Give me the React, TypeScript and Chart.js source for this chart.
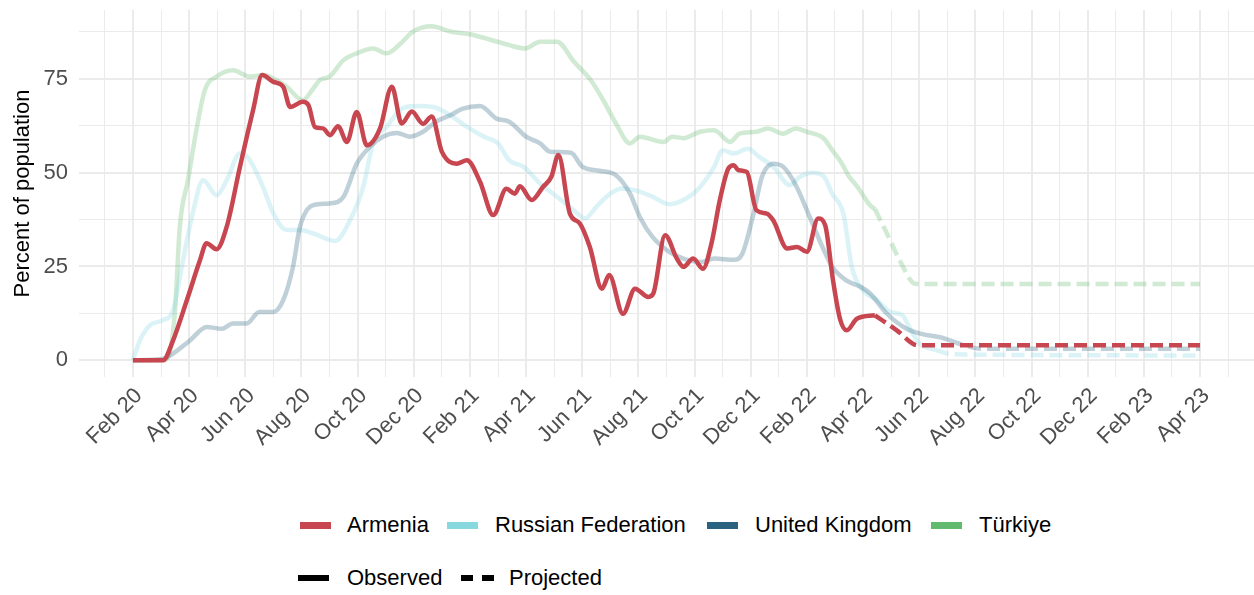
import React, { useEffect, useRef } from "react";
import { Chart, registerables } from "chart.js";

Chart.register(...registerables);

// x values are months since Feb 2020 (0 = Feb 20, 38 = Apr 23)
const tickMonths = [0, 2, 4, 6, 8, 10, 12, 14, 16, 18, 20, 22, 24, 26, 28, 30, 32, 34, 36, 38];
const tickLabels = [
  "Feb 20", "Apr 20", "Jun 20", "Aug 20", "Oct 20", "Dec 20",
  "Feb 21", "Apr 21", "Jun 21", "Aug 21", "Oct 21", "Dec 21",
  "Feb 22", "Apr 22", "Jun 22", "Aug 22", "Oct 22", "Dec 22",
  "Feb 23", "Apr 23",
];
const yTicks = [0, 25, 50, 75];
const yMinorTicks = [12.5, 37.5, 62.5, 87.5];

const armeniaObserved: [number, number][] = [
  [0, 0], [1.07, 0], [1.43, 5.3], [1.92, 16], [2.39, 26.7], [2.62, 31.2], [2.98, 29.6],
  [3.34, 35.6], [3.81, 51.5], [4.28, 66.7], [4.6, 76], [5.0, 74.2], [5.35, 72.9], [5.6, 67.5],
  [6.05, 68.9], [6.25, 68], [6.48, 62.2], [6.77, 61.8], [7.02, 60], [7.3, 62.4], [7.62, 58.2],
  [7.97, 66.2], [8.33, 57.3], [8.8, 61.8], [9.22, 72.9], [9.57, 63.1], [9.93, 66.3], [10.33, 63],
  [10.64, 65], [11.0, 55.6], [11.53, 52.4], [11.89, 53.3], [12.36, 47.6], [12.83, 38.7],
  [13.3, 45.7], [13.6, 44.4], [13.78, 46.4], [14.2, 42.7], [14.6, 46.2], [14.9, 48.9],
  [15.15, 54.7], [15.56, 39.1], [15.92, 36.4], [16.27, 30.2], [16.7, 19.1], [16.96, 22.7],
  [17.45, 12.4], [17.88, 19.1], [18.35, 16.9], [18.53, 17.8], [18.95, 33.3], [19.37, 27.1],
  [19.6, 24.9], [19.95, 27.1], [20.3, 24.4], [20.6, 31.1], [20.9, 42.7], [21.2, 51.1],
  [21.4, 52], [21.55, 50.7], [21.86, 50.2], [22.2, 40], [22.57, 39.1], [22.8, 37.3],
  [23.3, 29.8], [23.65, 30.2], [24.0, 28.9], [24.4, 37.8], [24.65, 36], [24.93, 21.3],
  [25.18, 11], [25.42, 8], [25.78, 11.1], [26.42, 12],
];
const armeniaProjected: [number, number][] = [
  [26.42, 12], [27.2, 8], [27.95, 4], [38, 4],
];

const russiaObserved: [number, number][] = [
  [0, 0], [0.25, 5.3], [0.6, 9.3], [1.07, 10.7], [1.43, 13.3], [1.74, 24.9], [2.1, 38.2],
  [2.5, 48], [2.98, 44], [3.34, 48], [3.81, 55.1], [4.1, 54], [4.63, 46.2], [5.0, 39.1],
  [5.48, 34.7], [5.95, 34.7], [6.42, 33.8], [7.2, 31.8], [7.73, 37.3], [8.2, 46.2],
  [8.55, 57.8], [9.04, 62.2], [9.5, 66.7], [10.1, 67.8], [10.7, 67.5], [11.3, 65.3],
  [11.9, 62.2], [12.5, 59.6], [13.0, 57.8], [13.4, 53.3], [13.9, 51.6], [14.5, 47.1],
  [15.1, 43.6], [15.7, 40], [16.1, 37.8], [16.5, 40.9], [17.0, 44.4], [17.4, 45.8],
  [17.9, 45.3], [18.5, 43.6], [19.1, 41.6], [19.7, 43.1], [20.2, 46.2], [20.7, 51.6],
  [21.0, 56], [21.4, 55.1], [21.9, 56.4], [22.3, 54.2], [22.8, 51.6], [23.4, 46.7],
  [23.75, 48.9], [24.2, 50], [24.6, 49], [24.9, 44.4], [25.3, 39], [25.6, 24.9],
  [26.0, 18.7], [26.5, 16], [26.96, 12.9], [27.4, 12], [27.7, 8], [28.0, 4.5], [28.6, 2.7],
];
const russiaProjected: [number, number][] = [
  [28.6, 2.7], [29.2, 1.6], [38, 1.3],
];

const ukObserved: [number, number][] = [
  [0, 0], [1.07, 0.4], [1.43, 1.8], [2.03, 5.3], [2.63, 8.9], [3.17, 8.4], [3.56, 9.8],
  [4.05, 9.8], [4.5, 12.9], [5.0, 12.9], [5.35, 16], [5.7, 24.9], [5.95, 35.6], [6.4, 41.3],
  [7.0, 41.8], [7.5, 43.6], [7.97, 52.4], [8.44, 56.9], [8.9, 59.6], [9.4, 60.6],
  [9.86, 59.6], [10.33, 60.9], [10.8, 63.6], [11.3, 65.3], [11.75, 67.1], [12.36, 67.8],
  [12.95, 64.4], [13.4, 63.6], [14.0, 59.6], [14.5, 57.8], [14.85, 55.6], [15.6, 55.3],
  [16.0, 51.6], [16.6, 50.5], [17.2, 49.3], [17.7, 44.4], [18.05, 38.2], [18.5, 32.9],
  [19.1, 28.9], [19.6, 27.1], [20.2, 26.2], [20.7, 27.1], [21.4, 26.8], [21.7, 28.4],
  [22.1, 39.1], [22.4, 48.9], [22.8, 52.4], [23.15, 51.6], [23.6, 46.7], [24.1, 38.2],
  [24.5, 31.1], [24.9, 24.9], [25.4, 21.3], [25.9, 19.6], [26.25, 17.8], [26.85, 12.4],
  [27.55, 8.4], [28.15, 6.9], [28.7, 6.2], [29.1, 5.3],
];
const ukProjected: [number, number][] = [
  [29.1, 5.3], [29.6, 4], [30.2, 3.1], [38, 3.1],
];

const turkiyeObserved: [number, number][] = [
  [0, 0], [1.07, 0], [1.3, 1.8], [1.5, 13.3], [1.67, 35.6], [1.96, 48], [2.28, 62.2],
  [2.56, 72], [2.98, 75.6], [3.56, 77.3], [4.17, 75.6], [4.63, 76], [5.0, 75.1], [5.48, 72.9],
  [6.05, 69.3], [6.42, 72.4], [6.66, 74.7], [7.0, 75.6], [7.5, 80], [7.97, 81.8], [8.55, 83.1],
  [9.04, 81.8], [9.5, 84.2], [9.97, 87.6], [10.64, 89], [11.3, 87.6], [12.0, 86.9],
  [12.7, 85.5], [13.4, 84], [13.96, 83.1], [14.5, 84.9], [15.1, 84.9], [15.7, 79.6],
  [16.3, 74.7], [16.75, 69.3], [17.2, 63.1], [17.7, 57.8], [18.05, 59.6], [18.9, 58.2],
  [19.2, 59.6], [19.6, 59.2], [20.2, 60.9], [20.7, 61.3], [21.26, 58.2], [21.6, 60.4],
  [22.2, 60.9], [22.6, 61.8], [23.15, 60.4], [23.6, 61.8], [24.0, 60.9], [24.6, 59.1],
  [24.9, 56], [25.2, 53], [25.5, 49], [25.8, 46.2], [26.25, 41.3], [26.42, 40.3],
];
const turkiyeProjected: [number, number][] = [
  [26.42, 40.3], [26.85, 33.8], [27.3, 26.7], [27.85, 20.4], [28.2, 20.3], [38, 20.3],
];

const FONT = '"Liberation Sans", Arial, Helvetica, sans-serif';
const FONT_SIZE = 22;
const RED = "#C74650";
const CYAN = "#88D8E0";
const UK = "#2A6280";
const GREEN = "#62BA6E";
const FADED = 0.3;

function hexA(hex: string, a: number) {
  const r = parseInt(hex.slice(1, 3), 16);
  const g = parseInt(hex.slice(3, 5), 16);
  const b = parseInt(hex.slice(5, 7), 16);
  return `rgba(${r},${g},${b},${a})`;
}

function series(pts: [number, number][], color: string, dashed: boolean, order: number) {
  return {
    data: pts.map(([x, y]) => ({ x, y })),
    borderColor: color,
    borderWidth: 4.5,
    borderDash: dashed ? [13, 6] : [],
    borderCapStyle: "butt" as const,
    borderJoinStyle: "round" as const,
    pointRadius: 0,
    cubicInterpolationMode: "monotone" as const,
    fill: false,
    order,
  };
}

function ChartView() {
  const ref = useRef<HTMLCanvasElement | null>(null);
  useEffect(() => {
    if (!ref.current) return;
    const gridMonths: number[] = [];
    for (let m = -1; m <= 39; m++) gridMonths.push(m);
    const yGrid = [...yTicks, ...yMinorTicks].sort((a, b) => a - b);
    const chart = new Chart(ref.current, {
      type: "line",
      data: {
        datasets: [
          series(armeniaObserved, RED, false, 0),
          series(armeniaProjected, RED, true, 0),
          series(russiaObserved, hexA(CYAN, FADED), false, 2),
          series(russiaProjected, hexA(CYAN, FADED), true, 2),
          series(ukObserved, hexA(UK, FADED), false, 1),
          series(ukProjected, hexA(UK, FADED), true, 1),
          series(turkiyeObserved, hexA(GREEN, FADED), false, 3),
          series(turkiyeProjected, hexA(GREEN, FADED), true, 3),
        ] as any,
      },
      options: {
        animation: false,
        responsive: true,
        maintainAspectRatio: false,
        layout: { padding: { top: 10, left: 0, right: 0, bottom: 0 } },
        plugins: { legend: { display: false }, tooltip: { enabled: false } },
        scales: {
          x: {
            type: "linear",
            min: -1.92,
            max: 39.92,
            afterBuildTicks: (axis: any) => {
              axis.ticks = gridMonths.map((v) => ({ value: v }));
            },
            afterFit: (s: any) => {
              s.height = 103;
              s.paddingLeft = 0;
              s.paddingRight = 0;
            },
            border: { display: false },
            grid: {
              color: "#EBEBEB",
              drawTicks: false,
              lineWidth: (c: any) => (tickMonths.includes(c.tick?.value) ? 2 : 1),
            },
            ticks: {
              autoSkip: false,
              minRotation: 45,
              maxRotation: 45,
              padding: 6,
              labelOffset: 6,
              color: "#4D4D4D",
              font: { family: FONT, size: FONT_SIZE },
              callback: (v: any) => {
                const i = tickMonths.indexOf(Number(v));
                return i >= 0 ? tickLabels[i] : "";
              },
            },
          },
          y: {
            type: "linear",
            min: -4.45,
            max: 93.35,
            afterBuildTicks: (axis: any) => {
              axis.ticks = yGrid.map((v) => ({ value: v }));
            },
            afterFit: (s: any) => {
              s.width = 79;
              s.paddingTop = 0;
              s.paddingBottom = 0;
            },
            border: { display: false },
            grid: {
              color: "#EBEBEB",
              drawTicks: false,
              lineWidth: (c: any) => (yTicks.includes(c.tick?.value) ? 2 : 1),
            },
            ticks: {
              padding: 11,
              color: "#4D4D4D",
              font: { family: FONT, size: FONT_SIZE },
              callback: (v: any) => (yTicks.includes(Number(v)) ? String(v) : ""),
            },
            title: {
              display: true,
              text: "Percent of population",
              color: "#000000",
              font: { family: FONT, size: FONT_SIZE },
              padding: { top: 10, bottom: 0 },
            },
          },
        },
      } as any,
    });
    return () => chart.destroy();
  }, []);
  return (
    <div style={{ position: "absolute", left: 0, top: 0, width: 1254, height: 480 }}>
      <canvas ref={ref} />
    </div>
  );
}

const legendRows = [
  [
    { label: "Armenia", color: RED, key: 300, text: 347, dashed: false },
    { label: "Russian Federation", color: CYAN, key: 447, text: 495, dashed: false },
    { label: "United Kingdom", color: UK, key: 707, text: 755, dashed: false },
    { label: "Türkiye", color: GREEN, key: 931, text: 979, dashed: false },
  ],
  [
    { label: "Observed", color: "#000000", key: 298, text: 347, dashed: false },
    { label: "Projected", color: "#000000", key: 461, text: 509, dashed: true },
  ],
];
const legendRowY = [525, 578];

function Legend() {
  return (
    <>
      {legendRows.map((row, r) =>
        row.map((it) => (
          <React.Fragment key={it.label}>
            {it.dashed ? (
              <>
                <div style={{ position: "absolute", left: it.key, top: legendRowY[r] - 3, width: 12, height: 6, background: it.color }} />
                <div style={{ position: "absolute", left: it.key + 21, top: legendRowY[r] - 3, width: 12, height: 6, background: it.color }} />
              </>
            ) : (
              <div style={{ position: "absolute", left: it.key, top: legendRowY[r] - 3.5, width: 31, height: r === 0 ? 7 : 6, background: it.color }} />
            )}
            <div
              style={{
                position: "absolute",
                left: it.text,
                top: legendRowY[r] - 13,
                height: 26,
                lineHeight: "26px",
                fontFamily: FONT,
                fontSize: FONT_SIZE,
                color: "#000000",
                whiteSpace: "nowrap",
              }}
            >
              {it.label}
            </div>
          </React.Fragment>
        ))
      )}
    </>
  );
}

export default function App() {
  return (
    <div style={{ position: "absolute", left: 0, top: 0, width: 1254, height: 595, background: "#ffffff", overflow: "hidden" }}>
      <ChartView />
      <Legend />
    </div>
  );
}
